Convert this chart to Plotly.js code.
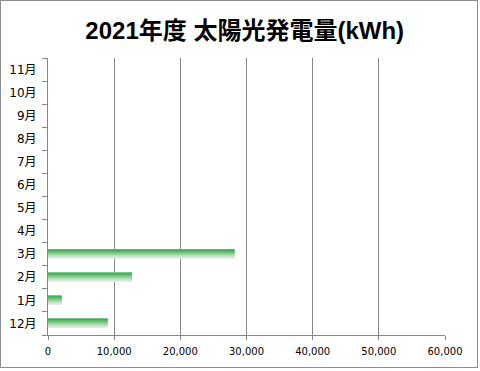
<!DOCTYPE html>
<html><head><meta charset="utf-8">
<script src="https://cdn.plot.ly/plotly-3.0.1.min.js"></script>
<style>
html,body{margin:0;padding:0;background:#fff;}
#frame{position:absolute;left:0;top:0;width:476px;height:366px;border:1px solid #8c8c8c;}
</style></head>
<body><div id="frame"><div id="chart" style="width:476px;height:366px;"></div></div>
<script>
const months = ["12月","1月","2月","3月","4月","5月","6月","7月","8月","9月","10月","11月"];
const generation = [9000, 2100, 12700, 28200, 0, 0, 0, 0, 0, 0, 0, 0];
const xTicks = [0, 10000, 20000, 30000, 40000, 50000, 60000];

// gradient emulation: stacked overlay layers anchored to the bar top
const layerWidths = [0.40, 0.35, 0.30, 0.25, 0.20, 0.15, 0.10, 0.05];
const layerColors = ["#e6ebe6","#d2e6d4","#bddfc1","#a4d6aa","#8acc93","#70c17c","#57b767","#3fae53"];
const barTop = 0.2;
const traces = layerWidths.map((w, i) => ({
  type: "bar", orientation: "h",
  x: generation, y: months,
  width: w, offset: barTop - w,
  marker: {color: layerColors[i], line: {width: 0}},
  hoverinfo: "skip", showlegend: false
}));

const layout = {
  width: 476, height: 366,
  margin: {l: 47, r: 32, t: 57, b: 32},
  paper_bgcolor: "#fff", plot_bgcolor: "#fff",
  barmode: "overlay",
  showlegend: false,
  title: {text: "<b>2021年度 太陽光発電量(kWh)</b>", x: 0.512, xanchor: "center", y: 0.92, yanchor: "middle",
    font: {family: "Liberation Sans, Noto Sans CJK JP, sans-serif", size: 24, color: "#000"}},
  xaxis: {
    range: [0, 60000], tickvals: xTicks, tickformat: ",d",
    showgrid: true, gridcolor: "#878787", gridwidth: 1,
    showline: true, linecolor: "#878787", linewidth: 1,
    ticks: "outside", ticklen: 4, tickcolor: "#878787",
    zeroline: false, ticklabelstandoff: 3,
    tickfont: {family: "DejaVu Sans, Tahoma, sans-serif", size: 10, color: "#000"},
    fixedrange: true
  },
  yaxis: {
    type: "category", categoryorder: "array", categoryarray: months,
    range: [-0.5, 11.5], tickson: "boundaries",
    showline: true, linecolor: "#878787", linewidth: 1,
    ticks: "outside", ticklen: 5, tickcolor: "#878787",
    showgrid: false, ticklabelstandoff: 8,
    tickfont: {family: "DejaVu Sans, Noto Sans CJK JP, sans-serif", size: 12, color: "#000"},
    fixedrange: true
  }
};
Plotly.newPlot("chart", traces, layout, {displayModeBar: false, staticPlot: true});
</script></body></html>
